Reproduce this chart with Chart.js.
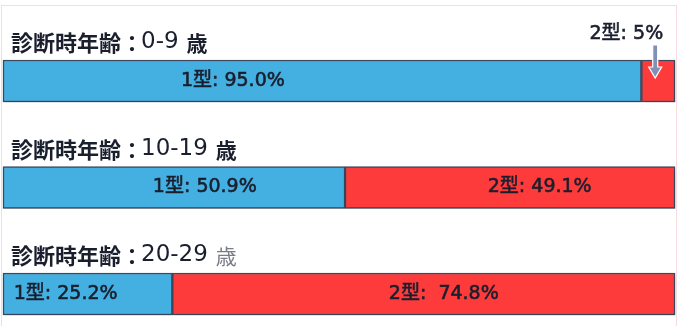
<!DOCTYPE html>
<html>
<head>
<meta charset="utf-8">
<script src="https://cdn.jsdelivr.net/npm/chart.js@4/dist/chart.umd.min.js"></script>
<style>
  html, body { margin: 0; padding: 0; background: #fff; }
  #wrap { width: 686px; height: 326px; }
</style>
</head>
<body>
<div id="wrap"><canvas id="typeChart" width="686" height="326"></canvas></div>
<script>
// 診断時年齢ごとの 1型 / 2型 の割合 (%)
const ageGroups = ["0-9", "10-19", "20-29"];
const type1 = [95.0, 50.9, 25.2];
const type2 = [5.0, 49.1, 74.8];

// ラベルの位置 (セグメント内の割合) — 見た目の調整用
const labelPos1 = [0.36, 0.59, 0.37];
const labelPos2 = [null, 0.59, 0.54];

const darkText = "#1a1f2e";
const labelFont = "19px 'DejaVu Sans', 'Noto Sans CJK JP', sans-serif";

const frame = {
	id: "frame",
	beforeDraw(chart) {
		const c = chart.ctx;
		c.save();
		c.fillStyle = "#fff";
		c.fillRect(0, 0, chart.width, chart.height);
		c.strokeStyle = "#f7dbe2";
		c.lineWidth = 1;
		c.strokeRect(1.5, 5.5, 675, 330);
		c.restore();
	},
	beforeDatasetsDraw(chart) {
		const c = chart.ctx;
		c.save();
		c.shadowColor = "rgba(40,50,80,0.35)";
		c.shadowBlur = 3;
		c.shadowOffsetX = 1;
		c.shadowOffsetY = 2;
	},
	afterDatasetsDraw(chart) {
		chart.ctx.restore();
	},
};

// 少し太めに見せる
function boldText(c, s, x, y) {
	c.fillText(s, x, y);
	c.strokeText(s, x, y);
}

const labels = {
	id: "labels",
	afterDraw(chart) {
		const c = chart.ctx;
		const m1 = chart.getDatasetMeta(0);
		const m2 = chart.getDatasetMeta(1);
		c.save();
		c.strokeStyle = darkText;
		c.lineWidth = 0.6;
		ageGroups.forEach((g, i) => {
			const b1 = m1.data[i];
			const b2 = m2.data[i];
			const top = b1.y - b1.height / 2;

			// タイトル (漢字は太字、数字は標準)
			c.textAlign = "left";
			c.textBaseline = "ideographic";
			c.fillStyle = darkText;
			let x = 11;
			const y = top - 6;
			c.font = "bold 22px 'Noto Sans CJK JP', sans-serif";
			c.fillText("診断時年齢：", x, y);
			x += c.measureText("診断時年齢：").width - 2;
			c.font = "23px 'DejaVu Sans', sans-serif";
			c.fillText(g, x, y - 1);
			x += c.measureText(g).width + 8;
			c.font = (i === 2 ? "" : "bold ") + "21px 'Noto Sans CJK JP', sans-serif";
			c.fillStyle = i === 2 ? "#7a7d86" : darkText;
			c.fillText("歳", x, y);
			c.fillStyle = darkText;

			// セグメント内ラベル
			c.font = labelFont;
			c.textBaseline = "middle";
			c.textAlign = "center";
			const l1 = b1.base, r1 = b1.x;
			boldText(c, "1型: " + type1[i].toFixed(1) + "%", l1 + (r1 - l1) * labelPos1[i], b1.y);
			if (labelPos2[i] !== null) {
				const l2 = b2.base, r2 = b2.x;
				const gap = i === 2 ? "  " : " ";
				boldText(c, "2型:" + gap + type2[i].toFixed(1) + "%", l2 + (r2 - l2) * labelPos2[i], b2.y);
			} else {
				// 小さいセグメントは上に注記と矢印
				const ax = (b2.base + b2.x) / 2 - 3;
				c.textAlign = "right";
				boldText(c, "2型: " + type2[i].toFixed(0) + "%", ax + 8, 34);
				c.beginPath();
				c.moveTo(ax - 2.5, 45);
				c.lineTo(ax + 2.5, 45);
				c.lineTo(ax + 2.5, 67);
				c.lineTo(ax + 6.5, 67);
				c.lineTo(ax, 78);
				c.lineTo(ax - 6.5, 67);
				c.lineTo(ax - 2.5, 67);
				c.closePath();
				c.fillStyle = "#8190b6";
				c.strokeStyle = "#ffffff";
				c.lineWidth = 1.2;
				c.fill();
				c.stroke();
				c.strokeStyle = darkText;
				c.lineWidth = 0.6;
				c.fillStyle = darkText;
			}
		});
		c.restore();
	},
};

new Chart(document.getElementById("typeChart"), {
	type: "bar",
	data: {
		labels: ageGroups,
		datasets: [
			{
				label: "1型",
				data: type1,
				backgroundColor: "#44b0e1",
				borderColor: "#3e4a5e",
				borderWidth: 1.5,
				borderSkipped: false,
				barThickness: 42,
				clip: false,
			},
			{
				label: "2型",
				data: type2,
				backgroundColor: "#fe3b3b",
				borderColor: "#3e4a5e",
				borderWidth: 1.5,
				borderSkipped: false,
				barThickness: 42,
				clip: false,
			},
		],
	},
	options: {
		indexAxis: "y",
		responsive: false,
		animation: false,
		layout: { padding: { top: 81, bottom: 32, left: 3, right: 11 } },
		plugins: {
			legend: { display: false },
			tooltip: { enabled: false },
		},
		scales: {
			x: { stacked: true, min: 0, max: 100, display: false },
			y: { stacked: true, offset: false, display: false },
		},
	},
	plugins: [frame, labels],
});
</script>
</body>
</html>
